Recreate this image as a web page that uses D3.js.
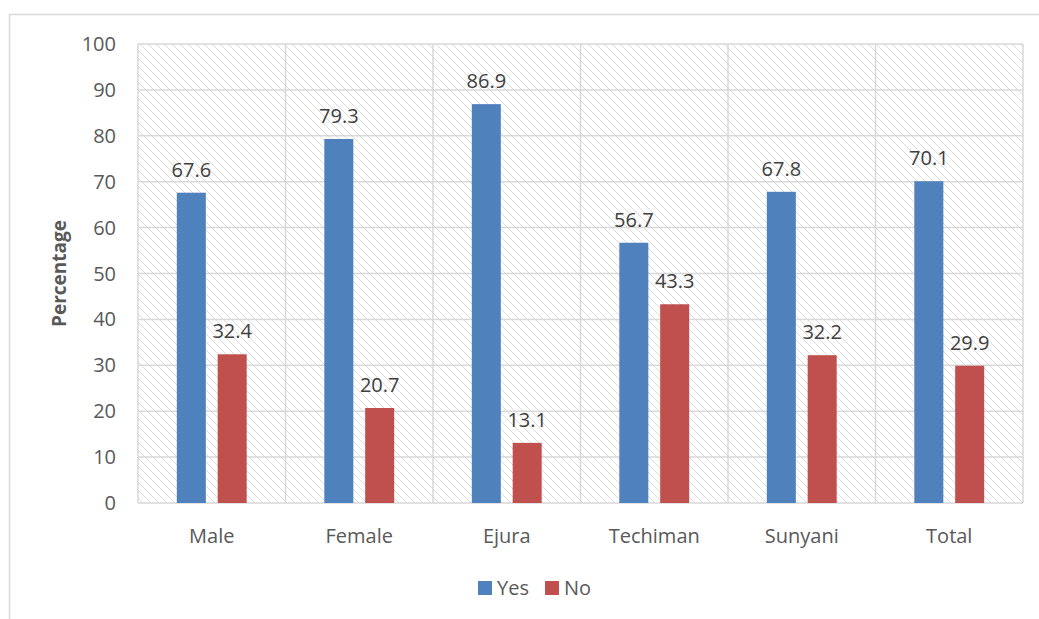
<!DOCTYPE html>
<html>
<head>
<meta charset="utf-8">
<script src="https://cdn.jsdelivr.net/npm/d3@7"></script>
<style>
  body { margin: 0; background: #fff; }
  text { font-family: "Open Sans", "Noto Sans", sans-serif; }
</style>
</head>
<body>
<div id="chart"></div>
<script>
// values
const categories = ["Male", "Female", "Ejura", "Techiman", "Sunyani", "Total"];
const yesValues = [67.6, 79.3, 86.9, 56.7, 67.8, 70.1];
const noValues = [32.4, 20.7, 13.1, 43.3, 32.2, 29.9];
const seriesNames = ["Yes", "No"];
const seriesColors = ["#4f81bd", "#c0504d"];
const yTicks = [0, 10, 20, 30, 40, 50, 60, 70, 80, 90, 100];

const width = 1039, height = 619;
const margin = {top: 44, right: 16, bottom: 116, left: 138};

const svg = d3.select("#chart").append("svg")
    .attr("width", width)
    .attr("height", height);

// outer chart frame (top + left edges visible)
svg.append("path")
    .attr("d", `M9.5,${height} L9.5,14.5 L${width},14.5`)
    .attr("fill", "none")
    .attr("stroke", "#d9d9d9")
    .attr("stroke-width", 1.5);

// hatch pattern
const defs = svg.append("defs");
const pat = defs.append("pattern")
    .attr("id", "hatch")
    .attr("patternUnits", "userSpaceOnUse")
    .attr("width", 8).attr("height", 8);
pat.append("path")
    .attr("d", "M-1,-1 L9,9 M-9,-1 L1,9 M7,-1 L17,9")
    .attr("stroke", "#dcdcdc")
    .attr("stroke-width", 1);

const x = d3.scaleBand()
    .domain(categories)
    .range([margin.left, width - margin.right]);

const y = d3.scaleLinear()
    .domain([0, 100])
    .range([height - margin.bottom, margin.top]);

const x1 = d3.scaleBand()
    .domain(seriesNames)
    .range([0, x.bandwidth()])
    .paddingInner(0.29)
    .paddingOuter(0.95);

// plot background
svg.append("rect")
    .attr("x", margin.left)
    .attr("y", margin.top)
    .attr("width", width - margin.right - margin.left)
    .attr("height", height - margin.bottom - margin.top)
    .attr("fill", "url(#hatch)");

// horizontal grid
svg.append("g")
    .selectAll("line")
    .data(yTicks)
    .join("line")
    .attr("x1", margin.left)
    .attr("x2", width - margin.right)
    .attr("y1", d => y(d))
    .attr("y2", d => y(d))
    .attr("stroke", "#d9d9d9")
    .attr("stroke-width", 1.5);

// vertical grid at category edges
const edges = categories.map(c => x(c)).concat([x(categories[categories.length - 1]) + x.bandwidth()]);
svg.append("g")
    .selectAll("line")
    .data(edges)
    .join("line")
    .attr("x1", d => d)
    .attr("x2", d => d)
    .attr("y1", margin.top)
    .attr("y2", height - margin.bottom)
    .attr("stroke", "#d9d9d9")
    .attr("stroke-width", 1.5);

// y tick labels
svg.append("g")
    .selectAll("text")
    .data(yTicks)
    .join("text")
    .attr("x", margin.left - 22)
    .attr("y", d => y(d))
    .attr("dy", "0.35em")
    .attr("text-anchor", "end")
    .attr("font-size", 20)
    .attr("fill", "#595959")
    .text(d => d);

// y axis title
svg.append("text")
    .attr("transform", `translate(66,${(margin.top + height - margin.bottom) / 2}) rotate(-90)`)
    .attr("text-anchor", "middle")
    .attr("font-size", 19)
    .attr("font-weight", "bold")
    .attr("fill", "#595959")
    .text("Percentage");

// bars
const rows = categories.map((c, i) => ({cat: c, values: [yesValues[i], noValues[i]]}));
const groups = svg.append("g")
    .selectAll("g")
    .data(rows)
    .join("g")
    .attr("transform", d => `translate(${x(d.cat)},0)`);

groups.selectAll("rect")
    .data(d => d.values.map((v, i) => ({name: seriesNames[i], v, color: seriesColors[i]})))
    .join("rect")
    .attr("x", d => x1(d.name))
    .attr("width", x1.bandwidth())
    .attr("y", d => y(d.v))
    .attr("height", d => y(0) - y(d.v))
    .attr("fill", d => d.color);

groups.selectAll("text")
    .data(d => d.values.map((v, i) => ({name: seriesNames[i], v})))
    .join("text")
    .attr("x", d => x1(d.name) + x1.bandwidth() / 2)
    .attr("y", d => y(d.v) - 16)
    .attr("text-anchor", "middle")
    .attr("font-size", 20)
    .attr("fill", "#404040")
    .text(d => d.v.toFixed(1));

// category labels
svg.append("g")
    .selectAll("text")
    .data(categories)
    .join("text")
    .attr("x", d => x(d) + x.bandwidth() / 2)
    .attr("y", height - margin.bottom + 40)
    .attr("text-anchor", "middle")
    .attr("font-size", 20)
    .attr("fill", "#595959")
    .text(d => d);

// legend
const legend = svg.append("g").attr("transform", "translate(478,581)");
const legItems = legend.selectAll("g")
    .data(seriesNames)
    .join("g")
    .attr("transform", (d, i) => `translate(${i * 67},0)`);
legItems.append("rect")
    .attr("width", 14).attr("height", 14)
    .attr("fill", (d, i) => seriesColors[i]);
legItems.append("text")
    .attr("x", 19)
    .attr("y", 7)
    .attr("dy", "0.35em")
    .attr("font-size", 20)
    .attr("fill", "#595959")
    .text(d => d);
</script>
</body>
</html>
